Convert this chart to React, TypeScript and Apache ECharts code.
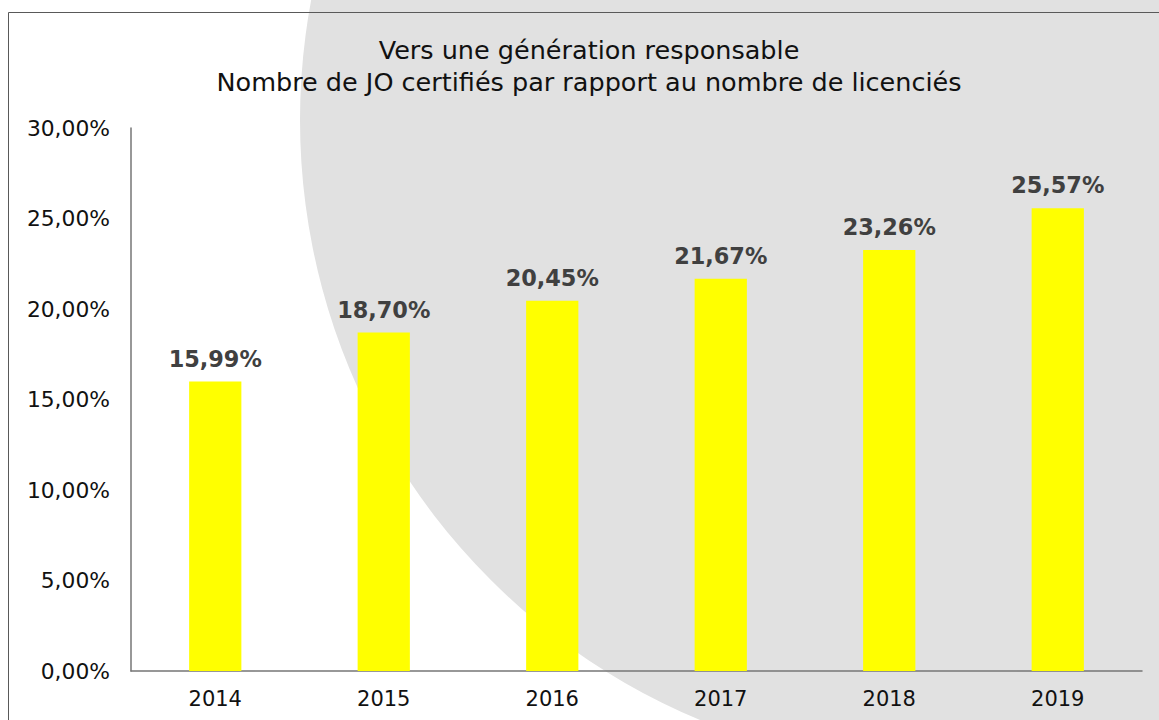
import React, { useEffect, useRef } from "react";
import * as echarts from "echarts";

const years = ["2014", "2015", "2016", "2017", "2018", "2019"];
const shares = [15.99, 18.7, 20.45, 21.67, 23.26, 25.57];
const titleLines = [
  "Vers une génération responsable",
  "Nombre de JO certifiés par rapport au nombre de licenciés",
];

const fmt = (v: number) => v.toFixed(2).replace(".", ",") + "%";

export default function App() {
  const ref = useRef<HTMLDivElement>(null);
  useEffect(() => {
    if (!ref.current) return;
    const chart = echarts.init(ref.current, null, { renderer: "svg" });
    const font = "DejaVu Sans";
    chart.setOption({
      animation: false,
      backgroundColor: "#ffffff",
      graphic: [
        {
          type: "circle",
          z: -10,
          silent: true,
          shape: { cx: 950, cy: 120, r: 650 },
          style: { fill: "#e1e1e1" },
        },
        {
          type: "rect",
          z: -5,
          silent: true,
          shape: { x: 8.5, y: 12.5, width: 1300, height: 900 },
          style: { fill: "none", stroke: "#595959", lineWidth: 1 },
        },
      ],
      title: {
        text: titleLines.join("\n"),
        left: 589,
        top: 34,
        padding: 0,
        textAlign: "center",
        textStyle: {
          fontFamily: font,
          fontSize: 25.5,
          fontWeight: "normal",
          color: "#111111",
          lineHeight: 32,
        },
      },
      grid: { left: 131, right: 17, top: 128, bottom: 49, containLabel: false },
      xAxis: {
        type: "category",
        data: years,
        axisLine: { lineStyle: { color: "#767676", width: 1.5 } },
        axisTick: { show: false },
        axisLabel: {
          fontFamily: font,
          fontSize: 21,
          color: "#111111",
          margin: 17,
        },
      },
      yAxis: {
        type: "value",
        min: 0,
        max: 30,
        interval: 5,
        axisLine: { show: true, lineStyle: { color: "#767676", width: 1.5 } },
        axisTick: { show: false },
        splitLine: { show: false },
        axisLabel: {
          fontFamily: font,
          fontSize: 21.8,
          color: "#111111",
          margin: 21,
          formatter: (v: number) => fmt(v),
        },
      },
      series: [
        {
          type: "bar",
          data: shares,
          barWidth: "31%",
          itemStyle: { color: "#ffff00" },
          label: {
            show: true,
            position: "top",
            distance: 12,
            fontFamily: font,
            fontSize: 22.4,
            fontWeight: "bold",
            color: "#404040",
            formatter: (p: any) => fmt(p.value),
          },
        },
      ],
    });
    return () => chart.dispose();
  }, []);
  return (
    <div
      ref={ref}
      style={{ position: "absolute", left: 0, top: 0, width: 1159, height: 720 }}
    />
  );
}
